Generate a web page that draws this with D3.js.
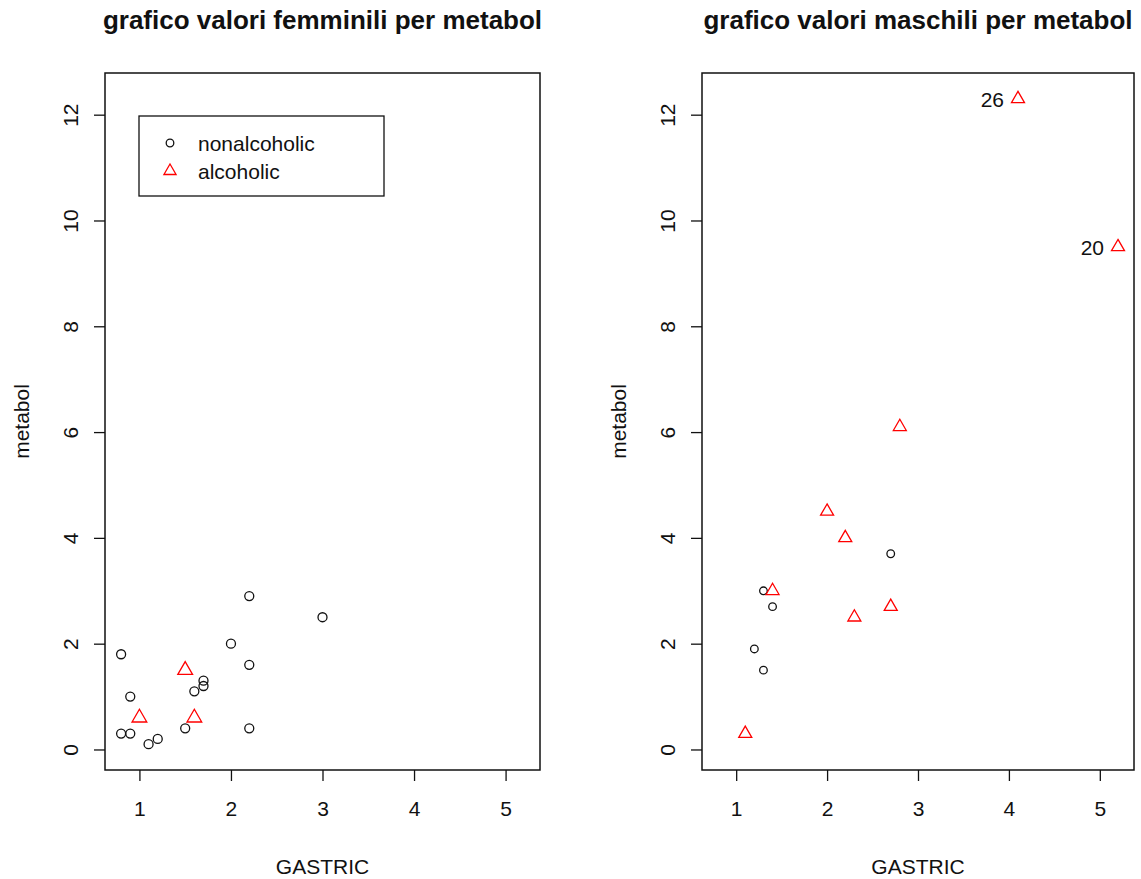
<!DOCTYPE html>
<html>
<head>
<meta charset="utf-8">
<script src="https://cdn.jsdelivr.net/npm/d3@7"></script>
<style>
  body { margin: 0; background: #fff; }
  text { font-family: "Liberation Sans", Arial, sans-serif; fill: #111; }
</style>
</head>
<body>
<script>
// women (left panel)
let femaleGastric = [1.0, 1.6, 1.5, 2.2, 1.1, 1.2, 0.9, 0.8, 1.5, 0.9, 1.6, 1.7, 1.7, 2.2, 0.8, 2.0, 3.0, 2.2]
let femaleMetabol = [0.6, 0.6, 1.5, 0.4, 0.1, 0.2, 0.3, 0.3, 0.4, 1.0, 1.1, 1.2, 1.3, 1.6, 1.8, 2.0, 2.5, 2.9]
let femaleAlcohol = ["a", "a", "a", "n", "n", "n", "n", "n", "n", "n", "n", "n", "n", "n", "n", "n", "n", "n"]

// men (right panel)
let maleGastric = [1.2, 1.3, 1.3, 1.4, 2.7, 1.1, 1.4, 2.0, 2.2, 2.3, 2.7, 2.8, 4.1, 5.2]
let maleMetabol = [1.9, 1.5, 3.0, 2.7, 3.7, 0.3, 3.0, 4.5, 4.0, 2.5, 2.7, 6.1, 12.3, 9.5]
let maleAlcohol = ["n", "n", "n", "n", "n", "a", "a", "a", "a", "a", "a", "a", "a", "a"]
let maleLabel = ["", "", "", "", "", "", "", "", "", "", "", "", "26", "20"]

let xTicks = [1, 2, 3, 4, 5]
let yTicks = [0, 2, 4, 6, 8, 10, 12]
let legendNames = ["nonalcoholic", "alcoholic"]
let titles = ["grafico valori femminili per metabol", "grafico valori maschili per metabol"]

let w = 1141
let h = 879
let plotTop = 73
let plotBottom = 770

let svg = d3.select("body").append("svg")
  .attr("width", w)
  .attr("height", h)

// both panels share the same limits, like R with xlim/ylim from the whole data
let allX = femaleGastric.concat(maleGastric)
let allY = femaleMetabol.concat(maleMetabol)
let pad = (ext)=> [ext[0] - (ext[1]-ext[0])*0.04, ext[1] + (ext[1]-ext[0])*0.04]
let xDom = pad(d3.extent(allX))
let yDom = pad(d3.extent(allY))

let triangle = (r)=>{
  let xc = r*0.866
  return "M0," + (-r) + "L" + xc + "," + (r/2) + "L" + (-xc) + "," + (r/2) + "Z"
}

let drawPanel = (left, right, title, gx, gy, ga, labels, circR, triR)=>{
  let xScale = d3.scaleLinear().domain(xDom).range([left, right])
  let yScale = d3.scaleLinear().domain(yDom).range([plotBottom, plotTop])
  let g = svg.append("g")

  let xAxis = d3.axisBottom(xScale).tickValues(xTicks).tickSize(11).tickPadding(20).tickFormat(d3.format("d"))
  let xg = g.append("g")
    .attr("transform", "translate(0," + plotBottom + ")")
    .call(xAxis)
  xg.select(".domain").remove()
  xg.selectAll("line").attr("stroke", "#111").attr("stroke-width", 1.3)
  xg.selectAll("text").attr("font-size", 21).attr("font-family", "Liberation Sans, Arial, sans-serif").attr("fill", "#111")

  let yAxis = d3.axisLeft(yScale).tickValues(yTicks).tickSize(11).tickFormat(d3.format("d"))
  let yg = g.append("g")
    .attr("transform", "translate(" + left + ",0)")
    .call(yAxis)
  yg.select(".domain").remove()
  yg.selectAll("line").attr("stroke", "#111").attr("stroke-width", 1.3)
  yg.selectAll("text")
    .attr("font-size", 21)
    .attr("font-family", "Liberation Sans, Arial, sans-serif")
    .attr("fill", "#111")
    .attr("text-anchor", "middle")
    .attr("x", 0)
    .attr("dy", 0)
    .attr("transform", "translate(-35,0) rotate(-90)")
    .attr("dominant-baseline", "central")

  g.append("rect")
    .attr("x", left)
    .attr("y", plotTop)
    .attr("width", right-left)
    .attr("height", plotBottom-plotTop)
    .attr("fill", "none")
    .attr("stroke", "#111")
    .attr("stroke-width", 1.5)

  g.append("text")
    .text(title)
    .attr("x", (left+right)/2)
    .attr("y", 29)
    .attr("text-anchor", "middle")
    .attr("font-size", 26)
    .attr("font-weight", "bold")

  g.append("text")
    .text("GASTRIC")
    .attr("x", (left+right)/2)
    .attr("y", 874)
    .attr("text-anchor", "middle")
    .attr("font-size", 21)

  g.append("text")
    .text("metabol")
    .attr("transform", "translate(" + (left-76) + "," + ((plotTop+plotBottom)/2) + ") rotate(-90)")
    .attr("text-anchor", "middle")
    .attr("font-size", 21)

  let idx = d3.range(gx.length)

  g.selectAll(".circ")
    .data(idx.filter((i)=> ga[i] == "n"))
    .enter()
    .append("circle")
    .attr("cx", (i)=> xScale(gx[i]))
    .attr("cy", (i)=> yScale(gy[i]))
    .attr("r", circR)
    .attr("fill", "none")
    .attr("stroke", "#111")
    .attr("stroke-width", 1.3)

  g.selectAll(".tri")
    .data(idx.filter((i)=> ga[i] == "a"))
    .enter()
    .append("path")
    .attr("d", triangle(triR))
    .attr("transform", (i)=> "translate(" + xScale(gx[i]) + "," + yScale(gy[i]) + ")")
    .attr("fill", "none")
    .attr("stroke", "#ff0000")
    .attr("stroke-width", 1.3)

  if(labels){
    g.selectAll(".lab")
      .data(idx.filter((i)=> labels[i] != ""))
      .enter()
      .append("text")
      .text((i)=> labels[i])
      .attr("x", (i)=> xScale(gx[i]) - 14)
      .attr("y", (i)=> yScale(gy[i]) + 8)
      .attr("text-anchor", "end")
      .attr("font-size", 21)
  }
}

let drawLegend = ()=>{
  let lg = svg.append("g").attr("id", "legend")
  lg.append("rect")
    .attr("x", 139)
    .attr("y", 116)
    .attr("width", 245)
    .attr("height", 80)
    .attr("fill", "none")
    .attr("stroke", "#111")
    .attr("stroke-width", 1.3)

  lg.append("circle")
    .attr("cx", 170)
    .attr("cy", 143)
    .attr("r", 3.8)
    .attr("fill", "none")
    .attr("stroke", "#111")
    .attr("stroke-width", 1.3)

  lg.append("path")
    .attr("d", triangle(7))
    .attr("transform", "translate(170,171)")
    .attr("fill", "none")
    .attr("stroke", "#ff0000")
    .attr("stroke-width", 1.3)

  lg.selectAll(".lt")
    .data(legendNames)
    .enter()
    .append("text")
    .text((d)=> d)
    .attr("x", 198)
    .attr("y", (d, i)=> 151 + i*28)
    .attr("font-size", 21)
}

drawPanel(105, 540, titles[0], femaleGastric, femaleMetabol, femaleAlcohol, null, 4.5, 8.5)
drawPanel(702, 1134, titles[1], maleGastric, maleMetabol, maleAlcohol, maleLabel, 3.8, 7.5)
drawLegend()
</script>
</body>
</html>
